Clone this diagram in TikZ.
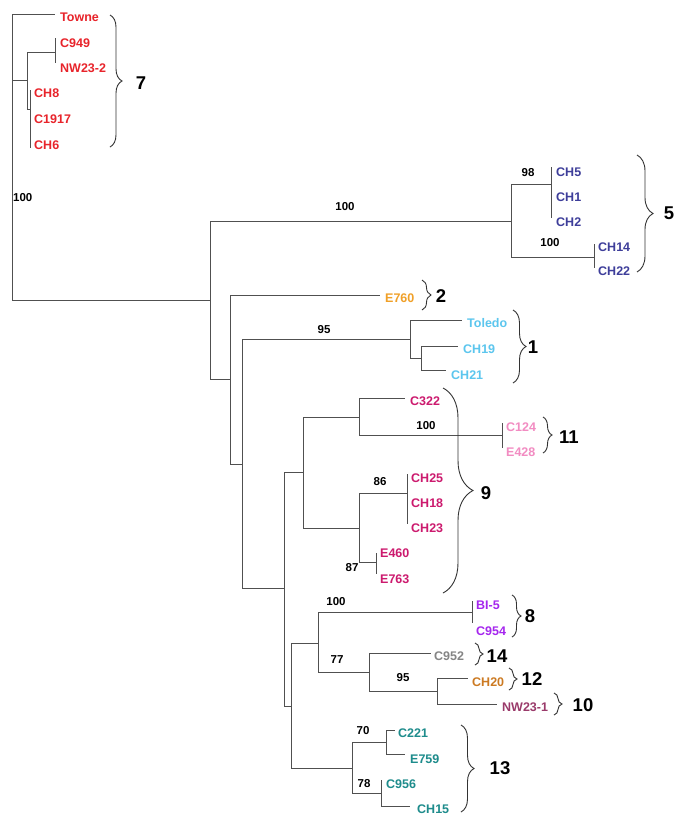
\documentclass[tikz,border=0pt]{standalone}
\usepackage{fontspec}
\setmainfont{Liberation Sans}
\usetikzlibrary{decorations.pathreplacing}
\definecolor{red7}{HTML}{E8242B}
\definecolor{blue5}{HTML}{3E3E9A}
\definecolor{org2}{HTML}{F0A028}
\definecolor{sky1}{HTML}{5CC6EE}
\definecolor{mag9}{HTML}{CC1A6E}
\definecolor{pink11}{HTML}{F28CC2}
\definecolor{vio8}{HTML}{A526EE}
\definecolor{gray14}{HTML}{858585}
\definecolor{brn12}{HTML}{CC7A22}
\definecolor{plum10}{HTML}{9A3A6A}
\definecolor{teal13}{HTML}{1E8C8C}
\definecolor{treeline}{HTML}{505050}
\begin{document}
\begin{tikzpicture}[x=1pt,y=-1pt,
  br/.style={line width=1pt, draw=treeline},
  lf/.style={anchor=west, inner sep=0pt, font=\bfseries\fontsize{12.5}{12.5}\selectfont},
  bs/.style={inner sep=0pt, font=\bfseries\fontsize{11.5}{11.5}\selectfont},
  cl/.style={inner sep=0pt, font=\bfseries\fontsize{18.5}{18.5}\selectfont},
  brc/.style={decorate, decoration={brace, amplitude=#1}, line width=0.9pt, draw=black!80},
]
\useasboundingbox[fill=white] (0,0) rectangle (685,833);

% ---------- root and clade 7 ----------
\coordinate (r) at (12,300);
\coordinate (tE) at (55,14);
\node[lf,text=red7] (towne) at (60,17) {Towne};
\draw[br] (r) |- (tE);
\coordinate (n7a) at (27,80);
\draw[br] (r) |- (n7a);
\coordinate (n7c) at (55,52);
\coordinate (n7d) at (30,109);
\draw[br] (n7a) |- (n7c);
\draw[br] (n7a) |- (n7d);
\coordinate (c949b) at (55,38); \coordinate (nw232b) at (55,63);
\draw[br] (c949b) -- (nw232b);
\node[lf,text=red7] (c949) at (60,43) {C949};
\node[lf,text=red7] (nw232) at (60,68) {NW23-2};
\coordinate (ch8b) at (30,90); \coordinate (ch6b) at (30,148);
\draw[br] (ch8b) -- (ch6b);
\node[lf,text=red7] (ch8) at (34,93) {CH8};
\node[lf,text=red7] (c1917) at (34,119) {C1917};
\node[lf,text=red7] (ch6) at (34,145) {CH6};
\node[bs,anchor=west] (bsroot) at (13,198) {100};

% ---------- main ----------
\coordinate (nB) at (210,300);
\draw[br] (r) -- (nB);
\coordinate (n5) at (511,221);
\draw[br] (nB) |- (n5);
\node[bs] (bs5) at (345,207) {100};
\coordinate (n5a) at (551,184);
\coordinate (n5b) at (594,257);
\draw[br] (n5) |- (n5a);
\draw[br] (n5) |- (n5b);
\coordinate (ch5b) at (551,167); \coordinate (ch2b) at (551,218);
\draw[br] (ch5b) -- (ch2b);
\node[bs] (bs98) at (528,173) {98};
\node[lf,text=blue5] (ch5) at (556,172) {CH5};
\node[lf,text=blue5] (ch1) at (556,197) {CH1};
\node[lf,text=blue5] (ch2) at (556,222) {CH2};
\coordinate (ch14b) at (594,244); \coordinate (ch22b) at (594,268);
\draw[br] (ch14b) -- (ch22b);
\node[bs] (bs5b) at (550,243) {100};
\node[lf,text=blue5] (ch14) at (598,247) {CH14};
\node[lf,text=blue5] (ch22) at (598,271) {CH22};

\coordinate (nC) at (230,379);
\draw[br] (nB) |- (nC);
\coordinate (e760E) at (380,295);
\draw[br] (nC) |- (e760E);
\node[lf,text=org2] (e760) at (385,298) {E760};
\coordinate (nD) at (242,464);
\draw[br] (nC) |- (nD);

\coordinate (n1) at (410,339);
\draw[br] (nD) |- (n1);
\node[bs] (bs95a) at (324,330) {95};
\coordinate (tolE) at (462,320);
\draw[br] (n1) |- (tolE);
\node[lf,text=sky1] (toledo) at (467,323) {Toledo};
\coordinate (n1b) at (421,358);
\draw[br] (n1) |- (n1b);
\coordinate (ch19E) at (458,346);
\coordinate (ch21E) at (446,370);
\draw[br] (n1b) |- (ch19E);
\draw[br] (n1b) |- (ch21E);
\node[lf,text=sky1] (ch19) at (463,349) {CH19};
\node[lf,text=sky1] (ch21) at (451,375) {CH21};

\coordinate (nE) at (284,588);
\draw[br] (nD) |- (nE);
\coordinate (nF) at (303,472);
\draw[br] (nE) |- (nF);
\coordinate (nG) at (359,417);
\draw[br] (nF) |- (nG);
\coordinate (c322E) at (405,398);
\draw[br] (nG) |- (c322E);
\node[lf,text=mag9] (c322) at (410,401) {C322};
\coordinate (n11) at (502,435);
\draw[br] (nG) |- (n11);
\node[bs] (bs11) at (426,426) {100};
\coordinate (c124b) at (502,423); \coordinate (e428b) at (502,448);
\draw[br] (c124b) -- (e428b);
\node[lf,text=pink11] (c124) at (506,427) {C124};
\node[lf,text=pink11] (e428) at (506,452) {E428};

\coordinate (nH) at (359,528);
\draw[br] (nF) |- (nH);
\coordinate (n9a) at (407,493);
\draw[br] (nH) |- (n9a);
\node[bs] (bs86) at (380,482) {86};
\coordinate (ch25b) at (407,474); \coordinate (ch23b) at (407,524);
\draw[br] (ch25b) -- (ch23b);
\node[lf,text=mag9] (ch25) at (411,478) {CH25};
\node[lf,text=mag9] (ch18) at (411,503) {CH18};
\node[lf,text=mag9] (ch23) at (411,528) {CH23};
\coordinate (n9b) at (376,562);
\draw[br] (nH) |- (n9b);
\node[bs] (bs87) at (352,568) {87};
\coordinate (e460b) at (376,553); \coordinate (e763b) at (376,574);
\draw[br] (e460b) -- (e763b);
\node[lf,text=mag9] (e460) at (380,553) {E460};
\node[lf,text=mag9] (e763) at (380,579) {E763};

\coordinate (nI) at (291,706);
\draw[br] (nE) |- (nI);
\coordinate (nJ) at (318,643);
\draw[br] (nI) |- (nJ);
\coordinate (n8) at (472,612);
\draw[br] (nJ) |- (n8);
\node[bs] (bs8) at (336,602) {100};
\coordinate (bi5b) at (472,601); \coordinate (c954b) at (472,623);
\draw[br] (bi5b) -- (c954b);
\node[lf,text=vio8] (bi5) at (476,605) {BI-5};
\node[lf,text=vio8] (c954) at (476,631) {C954};
\coordinate (nK) at (369,672);
\draw[br] (nJ) |- (nK);
\node[bs] (bs77) at (337,660) {77};
\coordinate (c952E) at (431,653);
\draw[br] (nK) |- (c952E);
\node[lf,text=gray14] (c952) at (434,656) {C952};
\coordinate (nL) at (437,691);
\draw[br] (nK) |- (nL);
\node[bs] (bs95b) at (403,678) {95};
\coordinate (ch20E) at (468,678);
\coordinate (nw231E) at (497,704);
\draw[br] (nL) |- (ch20E);
\draw[br] (nL) |- (nw231E);
\node[lf,text=brn12] (ch20) at (472,682) {CH20};
\node[lf,text=plum10] (nw231) at (502,707) {NW23-1};

\coordinate (nM) at (352,768);
\draw[br] (nI) |- (nM);
\coordinate (n13a) at (386,742);
\draw[br] (nM) |- (n13a);
\node[bs] (bs70) at (363,731) {70};
\coordinate (c221E) at (395,730);
\coordinate (e759E) at (405,754);
\draw[br] (n13a) |- (c221E);
\draw[br] (n13a) |- (e759E);
\node[lf,text=teal13] (c221) at (398,733) {C221};
\node[lf,text=teal13] (e759) at (410,759) {E759};
\coordinate (n13b) at (381,793);
\draw[br] (nM) |- (n13b);
\node[bs] (bs78) at (364,784) {78};
\coordinate (c956b) at (381,780);
\coordinate (ch15E) at (410,806);
\draw[br] (c956b) -- (n13b);
\draw[br] (n13b) |- (ch15E);
\node[lf,text=teal13] (c956) at (386,784) {C956};
\node[lf,text=teal13] (ch15) at (417,809) {CH15};

% ---------- braces ----------
\coordinate (b7t) at (110,15); \coordinate (b7b) at (110,147);
\draw[brc=12] (b7t) -- (b7b);
\node[cl] (g7) at (141,83) {7};
\coordinate (b5t) at (637,155); \coordinate (b5b) at (637,272);
\draw[brc=16] (b5t) -- (b5b);
\node[cl] (g5) at (669,213) {5};
\coordinate (b2t) at (422,280); \coordinate (b2b) at (422,310);
\draw[brc=9] (b2t) -- (b2b);
\node[cl] (g2) at (441,296) {2};
\coordinate (b1t) at (513,310); \coordinate (b1b) at (513,383);
\draw[brc=13] (b1t) -- (b1b);
\node[cl] (g1) at (533,347) {1};
\coordinate (b11t) at (543,417); \coordinate (b11b) at (543,453);
\draw[brc=9] (b11t) -- (b11b);
\node[cl] (g11) at (569,437) {11};
\coordinate (b9t) at (443,388); \coordinate (b9b) at (443,593);
\draw[brc=30] (b9t) -- (b9b);
\node[cl] (g9) at (486,493) {9};
\coordinate (b8t) at (512,595); \coordinate (b8b) at (512,637);
\draw[brc=9] (b8t) -- (b8b);
\node[cl] (g8) at (530,616) {8};
\coordinate (b14t) at (475,643); \coordinate (b14b) at (475,665);
\draw[brc=8] (b14t) -- (b14b);
\node[cl] (g14) at (497,656) {14};
\coordinate (b12t) at (509,668); \coordinate (b12b) at (509,690);
\draw[brc=8] (b12t) -- (b12b);
\node[cl] (g12) at (532,679) {12};
\coordinate (b10t) at (554,693); \coordinate (b10b) at (554,715);
\draw[brc=8] (b10t) -- (b10b);
\node[cl] (g10) at (583,705) {10};
\coordinate (b13t) at (461,725); \coordinate (b13b) at (461,812);
\draw[brc=13] (b13t) -- (b13b);
\node[cl] (g13) at (500,768) {13};
\end{tikzpicture}
\end{document}
